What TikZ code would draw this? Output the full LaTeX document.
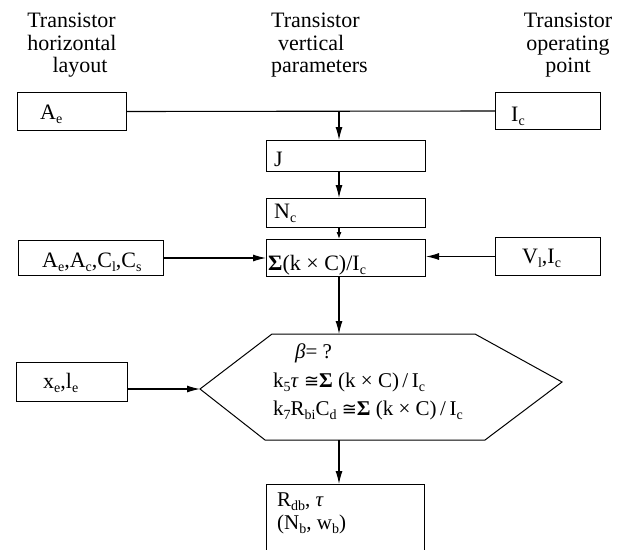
\documentclass[tikz,border=0pt]{standalone}
\usepackage{fontspec}
\setmainfont{Liberation Serif}
\newfontfamily\dvs{DejaVu Sans}
\usetikzlibrary{arrows.meta}
\newcommand\sbs[1]{\raisebox{-0.2em}{\fontsize{14}{14}\selectfont #1}}
\newcommand\congsym{{\dvs\fontsize{18}{18}\selectfont ≅}}
\begin{document}
\begin{tikzpicture}[x=1pt,y=-1pt,
  box/.style={draw, line width=1pt, inner sep=0pt, anchor=north west},
  lbl/.style={anchor=base west, inner sep=0pt, font=\fontsize{22}{22.5}\selectfont},
  slbl/.style={anchor=base west, inner sep=0pt, font=\fontsize{21}{22}\selectfont},
  hdr/.style={anchor=base, inner sep=0pt, font=\fontsize{22}{22.5}\selectfont},
  hdrl/.style={anchor=base west, inner sep=0pt, font=\fontsize{22}{22.5}\selectfont},
  conn/.style={line width=1.1pt},
  arr/.style={conn, -{Latex[length=13pt,width=7pt]}},
  sarr/.style={conn, -{Latex[length=7pt,width=5pt]}}]
\useasboundingbox (0,0) rectangle (623,549);
% headers
\node[hdr] (h1a) at (71.5,27) {Transistor};
\node[hdr] (h1b) at (72,50) {horizontal};
\node[hdr] (h1c) at (80,72) {layout};
\node[hdrl] (h2a) at (271,27) {Transistor};
\node[hdrl] (h2b) at (278,50) {vertical};
\node[hdrl] (h2c) at (271,72) {parameters};
\node[hdr] (h3a) at (568,27) {Transistor};
\node[hdr] (h3b) at (568,50) {operating};
\node[hdr] (h3c) at (568,72) {point};
% boxes
\node[box, minimum width=109pt, minimum height=38pt] (ae) at (17,92) {};
\node[box, minimum width=105pt, minimum height=37pt] (ic) at (495,92) {};
\node[box, minimum width=159pt, minimum height=31pt] (jbox) at (266,140) {};
\node[box, minimum width=159pt, minimum height=29pt] (nc) at (266,198) {};
\node[box, minimum width=159pt, minimum height=37pt] (sig) at (266,239) {};
\node[box, minimum width=145pt, minimum height=35pt] (aeac) at (18,240) {};
\node[box, minimum width=105pt, minimum height=38pt] (vl) at (495,237) {};
\node[box, minimum width=111pt, minimum height=39pt] (xe) at (16,362) {};
\node[box, draw=none, minimum width=157pt, minimum height=65pt] (outbox) at (266,484) {};
\draw[line width=1pt] (outbox.south west) -- (outbox.north west) -- (outbox.north east) -- (outbox.south east);
% hexagon
\coordinate (hL) at (200,389);
\coordinate (hTL) at (272,334);
\coordinate (hTR) at (475,334);
\coordinate (hR) at (562,382);
\coordinate (hBR) at (485,440);
\coordinate (hBL) at (265,440);
\coordinate (hT) at (339,334);
\coordinate (hB) at (339,440);
\draw[line width=1pt] (hL) -- (hTL) -- (hTR) -- (hR) -- (hBR) -- (hBL) -- cycle;
% labels
\node[lbl] (tae) at (40,119) {A\sbs{e}};
\node[lbl] (tic) at (511,121) {I\sbs{c}};
\node[lbl] (tj) at (274,166) {J};
\node[lbl] (tnc) at (274,218) {N\sbs{c}};
\node[lbl] (tsig) at (268,270) {{\bfseries Σ}(k × C)/I\sbs{c}};
\node[lbl] (taeac) at (42,267) {A\sbs{e},A\sbs{c},C\sbs{l},C\sbs{s}};
\node[lbl] (tvl) at (522,263) {V\sbs{l},I\sbs{c}};
\node[lbl] (txe) at (43,388) {x\sbs{e},l\sbs{e}};
\node[slbl] (tbeta) at (295,358) {\textit{β}= ?};
\node[slbl] (teq1) at (273,387) {k\sbs{5}\textit{τ} \congsym{\bfseries Σ} (k × C)\,/\,I\sbs{c}};
\node[slbl] (teq2) at (273,415) {k\sbs{7}R\sbs{bi}C\sbs{d} \congsym{\bfseries Σ} (k × C)\,/\,I\sbs{c}};
\node[slbl] (tr) at (277,506) {R\sbs{db}, \textit{τ}};
\node[slbl] (tn) at (277,529) {(N\sbs{b}, w\sbs{b})};
% connectors
\coordinate (spine) at (339,0);
\draw[conn] (ae.east) -- (ic.west);
\draw[arr] (spine |- ae.east) -- (spine |- jbox.north);
\draw[arr] (spine |- jbox.south) -- (spine |- nc.north);
\draw[sarr] (spine |- nc.south) -- (spine |- sig.north);
\draw[arr] (aeac.east) -- (aeac.east -| sig.west);
\draw[arr] (vl.west) -- (vl.west -| sig.east);
\draw[arr] (spine |- sig.south) -- (hT);
\draw[arr] (xe.east |- hL) -- (hL);
\draw[arr] (hB) -- (spine |- outbox.north);
\end{tikzpicture}
\end{document}
